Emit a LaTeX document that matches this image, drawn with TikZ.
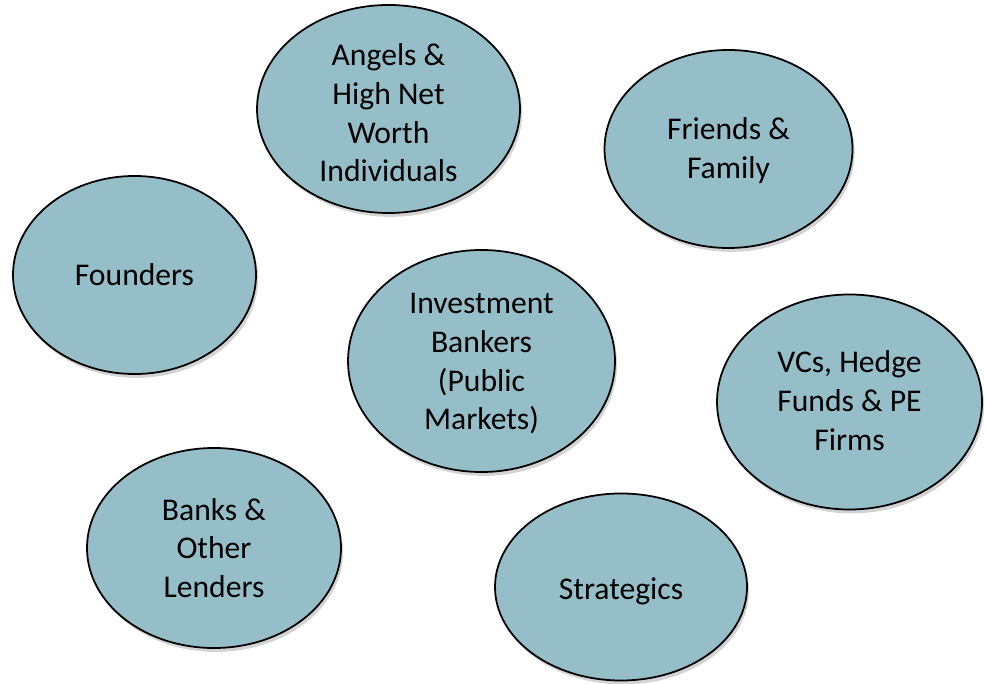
\documentclass[tikz,border=0pt]{standalone}
\usepackage{fontspec}
\setmainfont{Carlito}
\usetikzlibrary{shapes.geometric,shadows}
\definecolor{ink}{RGB}{0,0,0}
\definecolor{bubblefill}{RGB}{150,190,200}

\begin{document}
\begin{tikzpicture}[
  x=1cm,y=1cm,
  font=\fontsize{18}{22}\selectfont,
  bubble/.style={ellipse, draw=ink, fill=bubblefill, line width=1pt,
                 inner sep=0pt,
                 drop shadow={opacity=0.35, shadow xshift=1.2pt,
                              shadow yshift=-2.2pt}},
  caption/.style={align=center, text=ink, inner sep=0pt}
]
\useasboundingbox (0,0) rectangle (19.70,13.66);

% Funding sources, scattered around the middle one.
\node[bubble, minimum width=5.26cm, minimum height=4.16cm]
  (angels) at (7.77,11.48) {};
\node[caption] at ([yshift=-0.08cm]angels.center)
  {Angels \&\\High Net\\Worth\\Individuals};

\node[bubble, minimum width=4.96cm, minimum height=3.96cm]
  (friends) at (14.57,10.68) {};
\node[caption] at ([yshift=-0.03cm]friends.center) {Friends \&\\Family};

\node[bubble, minimum width=4.86cm, minimum height=3.96cm]
  (founders) at (2.69,8.16) {};
\node[caption] at (founders.center) {Founders};

\node[bubble, minimum width=5.34cm, minimum height=4.44cm]
  (bankers) at (9.63,6.44) {};
\node[caption] at ([yshift=-0.06cm]bankers.center)
  {Investment\\Bankers\\(Public\\Markets)};

\node[bubble, minimum width=5.30cm, minimum height=4.30cm]
  (vcs) at (16.99,5.62) {};
\node[caption] at ([yshift=0.03cm]vcs.center) {VCs, Hedge\\Funds \& PE\\Firms};

\node[bubble, minimum width=5.08cm, minimum height=4.00cm]
  (lenders) at (4.28,2.70) {};
\node[caption] at (lenders.center) {Banks \&\\Other\\Lenders};

\node[bubble, minimum width=5.04cm, minimum height=3.74cm]
  (strategics) at (12.42,1.92) {};
\node[caption] at ([yshift=-0.09cm]strategics.center) {Strategics};

\end{tikzpicture}
\end{document}
